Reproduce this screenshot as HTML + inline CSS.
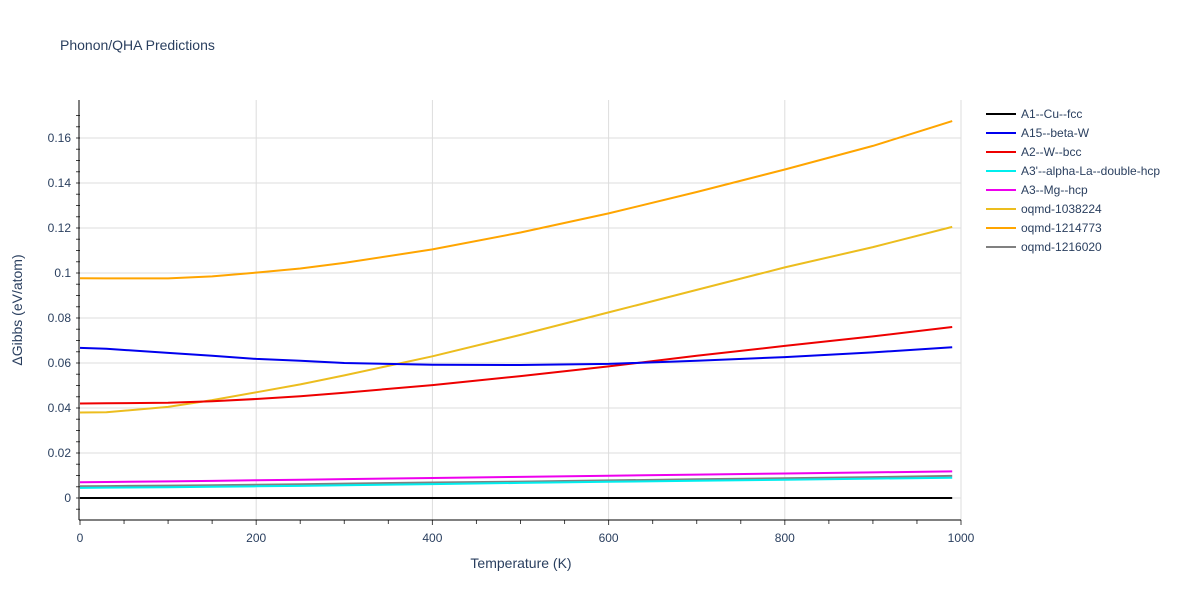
<!DOCTYPE html>
<html><head><meta charset="utf-8"><style>
body{margin:0;background:#fff;font-family:"Liberation Sans",sans-serif;}
text{font-family:"Liberation Sans",sans-serif;fill:#2a3f5f;}
</style></head><body>
<svg id="chart" width="1200" height="600">
<text x="60" y="50" font-size="14">Phonon/QHA Predictions</text>
<g id="grid"></g><g id="axes"></g><g id="series"></g><g id="legend"></g>
<text x="521" y="568" font-size="14" text-anchor="middle">Temperature (K)</text>
<text transform="translate(22,310) rotate(-90)" font-size="14" text-anchor="middle">ΔGibbs (eV/atom)</text>
</svg>
<script>
const seriesNames=["A1--Cu--fcc","A15--beta-W","A2--W--bcc","A3'--alpha-La--double-hcp","A3--Mg--hcp","oqmd-1038224","oqmd-1214773","oqmd-1216020"];
const seriesColors=["#000000","#0000ee","#ee0000","#00eeee","#ee00ee","#ecbd1e","#ffa500","#808080"];
const temps=[0,30,100,150,200,250,300,400,500,600,700,800,900,990];
const cuVals=[0,0,0,0,0,0,0,0,0,0,0,0,0,0];
const a15Vals=[0.0667,0.0663,0.0645,0.0632,0.0618,0.0610,0.0600,0.0592,0.0591,0.0596,0.0610,0.0626,0.0647,0.0670];
const a2Vals=[0.0420,0.0421,0.0423,0.0430,0.0440,0.0452,0.0468,0.0502,0.0542,0.0585,0.0632,0.0676,0.0718,0.0760];
const laVals=[0.0045,0.0046,0.0048,0.0050,0.0052,0.0054,0.0057,0.0062,0.0067,0.0072,0.0077,0.0081,0.0086,0.0090];
const mgVals=[0.0070,0.0071,0.0074,0.0076,0.0079,0.0081,0.0084,0.0089,0.0094,0.0099,0.0104,0.0109,0.0114,0.0118];
const o1038224Vals=[0.0380,0.0381,0.0405,0.0435,0.0470,0.0505,0.0545,0.0630,0.0725,0.0825,0.0925,0.1025,0.1115,0.1205];
const o1214773Vals=[0.0977,0.0976,0.0976,0.0985,0.1002,0.1020,0.1045,0.1105,0.1180,0.1265,0.1360,0.1460,0.1565,0.1675];
const o1216020Vals=[0.0052,0.0053,0.0055,0.0057,0.0059,0.0061,0.0064,0.0069,0.0073,0.0078,0.0083,0.0088,0.0093,0.0098];
const allVals=[cuVals,a15Vals,a2Vals,laVals,mgVals,o1038224Vals,o1214773Vals,o1216020Vals];
const xTicks=[0,200,400,600,800,1000];
const yTicks=[0,0.02,0.04,0.06,0.08,0.1,0.12,0.14,0.16];
const yTickLabels=["0","0.02","0.04","0.06","0.08","0.1","0.12","0.14","0.16"];
const NS="http://www.w3.org/2000/svg";
const X0=80,X1=961,Y0=498,YPER=2250,TOP=100,BOT=520;
function xs(v){return X0+(X1-X0)*v/1000;}
function ys(v){return Y0-v*YPER;}
function mk(tag,attrs,parent){const e=document.createElementNS(NS,tag);for(const k in attrs)e.setAttribute(k,attrs[k]);document.getElementById(parent).appendChild(e);return e;}
xTicks.forEach((t,i)=>{
 if(t>0){const l=mk('line',{x1:xs(t),x2:xs(t),y1:TOP,y2:BOT,stroke:'#dddddd'},'grid');
 
 }
 const tx=mk('text',{x:xs(t),y:BOT+22,'font-size':12,'text-anchor':'middle'},'axes');tx.textContent=t;
 
 
});
for(let t=0;t<=1000;t+=50){mk('line',{x1:xs(t),x2:xs(t),y1:BOT,y2:BOT+(t%200==0?5:4),stroke:'#444'},'axes');}
yTicks.forEach((t,i)=>{
 const l=mk('line',{x1:X0,x2:X1,y1:ys(t),y2:ys(t),stroke:'#dddddd'},'grid');
 
 
 const tx=mk('text',{x:X0-9,y:ys(t)+4,'font-size':12,'text-anchor':'end'},'axes');tx.textContent=yTickLabels[i];
 
 
});
for(let t=-0.005;t<=0.175;t+=0.005){mk('line',{x1:X0-4,x2:X0,y1:ys(t),y2:ys(t),stroke:'#444'},'axes');}
mk('line',{x1:X0-1,x2:X0-1,y1:TOP,y2:BOT,stroke:'#000'},'axes');
mk('line',{x1:X0-1,x2:X1,y1:BOT,y2:BOT,stroke:'#000'},'axes');
const order=[7,6,5,4,3,2,1,0];
order.forEach(i=>{
 const d=temps.map((t,j)=>(j?'L':'M')+xs(t).toFixed(1)+','+ys(allVals[i][j]).toFixed(1)).join(' ');
 const p=mk('path',{d:d,fill:'none',stroke:seriesColors[i],'stroke-width':2},'series');
 
 
});
seriesNames.forEach((n,i)=>{
 const y=114+i*19;
 const g=mk('g',{},'legend');
 
 
 const l=document.createElementNS(NS,'line');l.setAttribute('x1',986);l.setAttribute('x2',1016);l.setAttribute('y1',y);l.setAttribute('y2',y);l.setAttribute('stroke',seriesColors[i]);l.setAttribute('stroke-width',2);g.appendChild(l);
 const t=document.createElementNS(NS,'text');t.setAttribute('x',1021);t.setAttribute('y',y+4);t.setAttribute('font-size',12);t.textContent=n;g.appendChild(t);
});
</script>
</body></html>
